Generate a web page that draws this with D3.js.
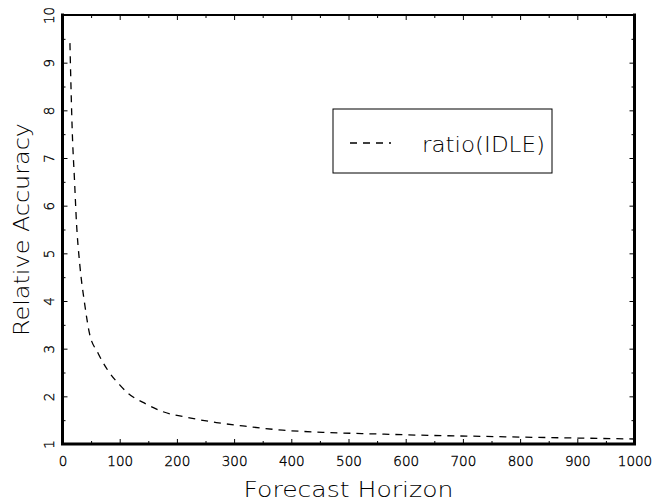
<!DOCTYPE html>
<html>
<head>
<meta charset="utf-8">
<script src="https://cdn.jsdelivr.net/npm/d3@7/dist/d3.min.js"></script>
<style>
  body { margin: 0; background: #fff; }
  svg { display: block; }
  text { font-family: "DejaVu Sans", sans-serif; font-weight: 200; fill: #000; }
</style>
</head>
<body>
<svg id="chart" width="652" height="502"></svg>
<script>
// forecast horizon (x) and relative accuracy ratio (y)
const horizon = [13, 15, 17, 21, 24.5, 30, 38.5, 47, 62, 79, 100, 114, 146, 175, 222, 269, 315, 385, 455, 550, 642, 734, 800, 900, 1000];
const ratio = [9.41, 8.42, 7.58, 6.53, 5.63, 4.79, 3.96, 3.33, 2.91, 2.55, 2.24, 2.07, 1.84, 1.68, 1.55, 1.45, 1.38, 1.29, 1.245, 1.21, 1.18, 1.16, 1.145, 1.125, 1.105];

const xMajor = [0, 100, 200, 300, 400, 500, 600, 700, 800, 900, 1000];
const xMinor = [50, 150, 250, 350, 450, 550, 650, 750, 850, 950];
const yMajor = [1, 2, 3, 4, 5, 6, 7, 8, 9, 10];
const yMinor = [1.5, 2.5, 3.5, 4.5, 5.5, 6.5, 7.5, 8.5, 9.5];

const seriesName = "ratio(IDLE)";
const xTitle = "Forecast Horizon";
const yTitle = "Relative Accuracy";

const box = {left: 62.5, right: 634.5, top: 15, bottom: 444};

const svg = d3.select("#chart");

const x = d3.scaleLinear().domain([0, 1000]).range([box.left, box.right]);
const y = d3.scaleLinear().domain([1, 10]).range([box.bottom, box.top]);

// helper to draw a tick set on one side of the frame
function tickSet(axisFn, scale, values, size, transform) {
    const g = svg.append("g")
        .attr("transform", transform)
        .call(axisFn(scale).tickValues(values).tickSize(-size).tickFormat(""));
    g.select(".domain").remove();
    g.selectAll(".tick line").attr("stroke", "#000").attr("stroke-width", 1);
    return g;
}

tickSet(d3.axisBottom, x, xMinor, 3, `translate(0,${box.bottom})`);
tickSet(d3.axisTop, x, xMinor, 3, `translate(0,${box.top})`);
tickSet(d3.axisTop, x, xMajor, 5, `translate(0,${box.top})`);
tickSet(d3.axisLeft, y, yMinor, 3, `translate(${box.left},0)`);
tickSet(d3.axisRight, y, yMinor, 3, `translate(${box.right},0)`);
tickSet(d3.axisRight, y, yMajor, 5, `translate(${box.right},0)`);

// bottom axis with labels
const xAxis = svg.append("g")
    .attr("transform", `translate(0,${box.bottom})`)
    .call(d3.axisBottom(x).tickValues(xMajor).tickSize(-5).tickPadding(12).tickFormat(d3.format("d")));
xAxis.select(".domain").remove();
xAxis.selectAll(".tick line").attr("stroke", "#000").attr("stroke-width", 1);
xAxis.selectAll("text")
    .attr("font-family", null).attr("font-size", 13.5)
    .attr("stroke", "#000").attr("stroke-width", 0.35);

// left axis with rotated labels
const yAxis = svg.append("g")
    .attr("transform", `translate(${box.left},0)`)
    .call(d3.axisLeft(y).tickValues(yMajor).tickSize(-5).tickFormat(d3.format("d")));
yAxis.select(".domain").remove();
yAxis.selectAll(".tick line").attr("stroke", "#000").attr("stroke-width", 1);
yAxis.selectAll("text")
    .attr("font-family", null).attr("font-size", 13.5)
    .attr("stroke", "#000").attr("stroke-width", 0.35)
    .attr("x", null).attr("dy", null)
    .attr("text-anchor", "middle")
    .attr("transform", "translate(-8.5,0) rotate(-90)");

// frame: thin top, heavy sides and bottom
svg.append("line")
    .attr("x1", box.left).attr("x2", box.right)
    .attr("y1", box.top).attr("y2", box.top)
    .attr("stroke", "#000").attr("stroke-width", 2);
svg.append("path")
    .attr("d", `M${box.left},${box.top}V${box.bottom}H${box.right}V${box.top}`)
    .attr("fill", "none")
    .attr("stroke", "#000")
    .attr("stroke-width", 3)
    .attr("stroke-linecap", "square");

// the dashed ratio curve
const line = d3.line()
    .x((d, i) => x(horizon[i]))
    .y(d => y(d))
    .curve(d3.curveMonotoneX);

svg.append("path")
    .datum(ratio)
    .attr("d", line)
    .attr("fill", "none")
    .attr("stroke", "#000")
    .attr("stroke-width", 1.3)
    .attr("stroke-dasharray", "7,6");

// legend
const legend = svg.append("g").attr("transform", "translate(333,109)");
legend.append("rect")
    .attr("width", 219).attr("height", 64)
    .attr("fill", "none").attr("stroke", "#000").attr("stroke-width", 1);
legend.append("line")
    .attr("x1", 17).attr("x2", 58)
    .attr("y1", 34).attr("y2", 34)
    .attr("stroke", "#000").attr("stroke-width", 1.3)
    .attr("stroke-dasharray", "7,6");
legend.append("text")
    .attr("x", 89).attr("y", 43)
    .attr("font-size", 21)
    .attr("textLength", 123).attr("lengthAdjust", "spacingAndGlyphs")
    .text(seriesName);

// axis titles
svg.append("text")
    .attr("x", (box.left + box.right) / 2).attr("y", 497)
    .attr("text-anchor", "middle")
    .attr("font-size", 21)
    .attr("textLength", 210).attr("lengthAdjust", "spacingAndGlyphs")
    .text(xTitle);

svg.append("text")
    .attr("transform", `translate(29,${(box.top + box.bottom) / 2}) rotate(-90)`)
    .attr("text-anchor", "middle")
    .attr("font-size", 21)
    .attr("textLength", 213).attr("lengthAdjust", "spacingAndGlyphs")
    .text(yTitle);
</script>
</body>
</html>
